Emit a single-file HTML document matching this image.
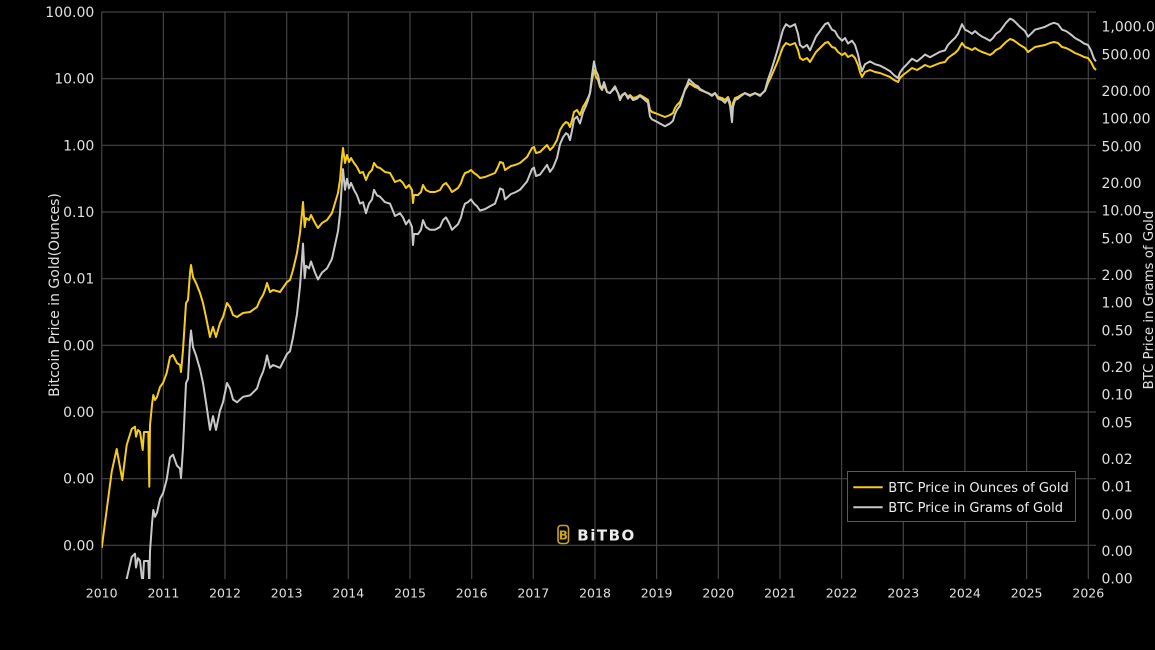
<!DOCTYPE html>
<html>
<head>
<meta charset="utf-8">
<style>
  html,body{margin:0;padding:0;background:#000;width:1155px;height:650px;overflow:hidden;}
  svg{display:block;}
  text{font-family:"DejaVu Sans","Liberation Sans",sans-serif;}
</style>
</head>
<body>
<svg width="1155" height="650" viewBox="0 0 1155 650" xmlns="http://www.w3.org/2000/svg">
  <rect x="0" y="0" width="1155" height="650" fill="#000"/>
  <defs>
    <clipPath id="plot"><rect x="101.7" y="11" width="995" height="568"/></clipPath>
  </defs>

  <!-- gridlines -->
  <g stroke="#444" stroke-width="1.2">
    <line x1="101.7" y1="12" x2="1096" y2="12"/>
    <line x1="101.7" y1="78.7" x2="1096" y2="78.7"/>
    <line x1="101.7" y1="145.3" x2="1096" y2="145.3"/>
    <line x1="101.7" y1="212" x2="1096" y2="212"/>
    <line x1="101.7" y1="278.7" x2="1096" y2="278.7"/>
    <line x1="101.7" y1="345.3" x2="1096" y2="345.3"/>
    <line x1="101.7" y1="412" x2="1096" y2="412"/>
    <line x1="101.7" y1="478.7" x2="1096" y2="478.7"/>
    <line x1="101.7" y1="545.3" x2="1096" y2="545.3"/>

    <line x1="101.7" y1="12" x2="101.7" y2="579"/>
    <line x1="163.4" y1="12" x2="163.4" y2="579"/>
    <line x1="225.0" y1="12" x2="225.0" y2="579"/>
    <line x1="286.7" y1="12" x2="286.7" y2="579"/>
    <line x1="348.3" y1="12" x2="348.3" y2="579"/>
    <line x1="410.0" y1="12" x2="410.0" y2="579"/>
    <line x1="471.7" y1="12" x2="471.7" y2="579"/>
    <line x1="533.3" y1="12" x2="533.3" y2="579"/>
    <line x1="595.0" y1="12" x2="595.0" y2="579"/>
    <line x1="656.6" y1="12" x2="656.6" y2="579"/>
    <line x1="718.3" y1="12" x2="718.3" y2="579"/>
    <line x1="780.0" y1="12" x2="780.0" y2="579"/>
    <line x1="841.6" y1="12" x2="841.6" y2="579"/>
    <line x1="903.3" y1="12" x2="903.3" y2="579"/>
    <line x1="964.9" y1="12" x2="964.9" y2="579"/>
    <line x1="1026.6" y1="12" x2="1026.6" y2="579"/>
    <line x1="1088.3" y1="12" x2="1088.3" y2="579"/>
  </g>

  <!-- BITBO watermark -->
  <g>
    <rect x="558" y="525.5" width="10.5" height="18" rx="3" ry="3" fill="none" stroke="#c9a227" stroke-width="1.6"/>
    <text x="563.3" y="539.5" font-size="12" font-weight="bold" fill="#c9a227" text-anchor="middle">B</text>
    <text x="577.3" y="540.5" font-size="15" font-weight="bold" fill="#ececec" letter-spacing="1.5">BiTBO</text>
  </g>

  <!-- series -->
  <g clip-path="url(#plot)" fill="none" stroke-width="2" stroke-linejoin="round">
    <path stroke="#f5cd19" d="M101.7,548 L111.7,471.7 L116.7,449 L122.3,480 L126.7,445 L131.7,429 L135,426.7 L136,436.7 L138,430 L140,431.7 L142.7,450 L144,432 L148.3,432 L149.3,486.7 L150,425 L152,405 L153.3,395 L155,400 L157,397 L160,387 L163,383 L166.7,373 L170,357 L173,355 L177,363 L180,365 L181,372 L183,350 L186,303 L188,300 L190,273 L191,265 L193,277 L196,283 L200,293 L203,303 L206,317 L208,327 L210,337 L213,327 L216,337 L220,323 L223,317 L227,303 L230,307 L233,315 L237,317 L243,313 L250,312 L257,307 L260,300 L263,295 L265,290 L267,283 L270,292 L273,290 L280,292 L287,282 L290,280 L293,270 L297,253 L300,233 L302,213 L303,202 L304.7,227 L306,218 L309,220 L311,215 L315,223 L318,228 L322,223 L327,220 L332,213 L335,203 L338,193 L340,180 L342,157 L343,148 L345,163 L347,155 L349,162 L351,158 L354,163 L357,167 L360,173 L363,172 L366,180 L369,173 L372,170 L374,163 L377,167 L380,168 L385,172 L390,173 L395,182 L400,180 L403,183 L406,188 L409,185 L412,190 L413,203 L414,195 L418,195 L421,192 L423,185 L426,190 L430,192 L435,192 L440,190 L443,185 L446,183 L449,187 L452,192 L455,190 L458,188 L461,183 L463,177 L465,173 L468,172 L471,170 L474,173 L477,175 L480,178 L485,177 L490,175 L495,173 L498,167 L500,162 L503,163 L505,170 L508,168 L511,166 L515,165 L520,163 L527,157 L532,148 L534,147 L536,153 L540,152 L545,147 L547,145 L550,150 L553,147 L557,140 L560,130 L563,125 L566,122 L568,123 L570,127 L572,120 L574,112 L577,110 L580,115 L583,107 L586,102 L588,98 L590,93 L592,80 L594,70 L596,77 L598,80 L600,87 L602,90 L604,85 L607,92 L610,93 L613,90 L615,88 L618,93 L620,98 L622,95 L625,93 L628,97 L630,95 L633,98 L637,97 L640,95 L645,98 L648,100 L650,110 L652,112 L655,113 L660,115 L665,117 L670,115 L673,113 L675,108 L677,105 L680,102 L683,95 L685,90 L687,87 L689,83 L692,85 L695,87 L698,88 L700,90 L705,92 L708,93 L712,95 L715,93 L718,97 L722,98 L725,100 L728,97 L730,102 L732,114 L733,103 L735,98 L738,97 L741,95 L745,93 L750,95 L755,93 L760,95 L765,91 L768,83 L771,77 L774,70 L777,63 L780,55 L783,47 L786,43 L790,45 L795,43 L798,50 L800,58 L803,60 L807,58 L810,62 L813,57 L816,52 L820,48 L825,43 L828,42 L832,47 L835,48 L838,52 L842,55 L845,53 L848,57 L852,55 L855,58 L858,65 L860,72 L862,77 L865,72 L870,70 L875,72 L880,73 L885,75 L890,77 L894,80 L898,82 L900,78 L903,75 L907,72 L912,68 L917,70 L922,67 L925,65 L930,67 L935,65 L940,63 L945,62 L948,58 L952,55 L955,53 L958,50 L962,43 L965,47 L968,48 L972,50 L975,48 L978,50 L982,52 L985,53 L990,55 L993,53 L996,50 L1000,48 L1003,45 L1006,42 L1010,39 L1013,40 L1016,42 L1020,45 L1025,48 L1028,52 L1031,50 L1035,47 L1040,46 L1045,45 L1050,43 L1054,42 L1058,43 L1062,47 L1066,48 L1070,50 L1075,53 L1080,55 L1084,57 L1088,58 L1091,62 L1094,68 L1096,70"/>
    <path stroke="#c8c8c8" d="M101.7,585 L111.7,585 L116.7,584.5 L122.3,585 L126.7,578.9 L131.7,556.9 L135,553.7 L136,567.5 L138,558.2 L140,560.6 L142.7,585 L144,561 L148.3,561 L149.3,585 L150,551.3 L152,523.7 L153.3,510 L155,516.8 L157,512.7 L160,498.9 L163,493.4 L166.7,479.6 L170,457.5 L173,454.7 L177,465.8 L180,468.5 L181,478.2 L183,447.8 L186,383 L188,378.8 L190,341.6 L191,330.5 L193,347.1 L196,355.4 L200,369.2 L203,383 L206,402.3 L208,416.1 L210,429.9 L213,416.1 L216,429.9 L220,410.6 L223,402.3 L227,383 L230,388.5 L233,399.5 L237,402.3 L243,396.8 L250,395.4 L257,388.5 L260,378.8 L263,371.9 L265,365 L267,355.4 L270,367.8 L273,365 L280,367.8 L287,354 L290,351.2 L293,337.4 L297,314 L300,286.4 L302,258.8 L303,243.6 L304.7,278.1 L306,265.7 L309,268.4 L311,261.5 L315,272.6 L318,279.5 L322,272.6 L327,268.4 L332,258.8 L335,245 L338,231.2 L340,213.2 L342,181.5 L343,169.1 L345,189.8 L347,178.7 L349,188.4 L351,182.9 L354,189.8 L357,195.3 L360,203.6 L363,202.2 L366,213.2 L369,203.6 L372,199.4 L374,189.8 L377,195.3 L380,196.7 L385,202.2 L390,203.6 L395,216 L400,213.2 L403,217.4 L406,224.3 L409,220.1 L412,227 L413,245 L414,234 L418,234 L421,229.8 L423,220.1 L426,227 L430,229.8 L435,229.8 L440,227 L443,220.1 L446,217.4 L449,222.9 L452,229.8 L455,227 L458,224.3 L461,217.4 L463,209.1 L465,203.6 L468,202.2 L471,199.4 L474,203.6 L477,206.3 L480,210.5 L485,209.1 L490,206.3 L495,203.6 L498,195.3 L500,188.4 L503,189.8 L505,199.4 L508,196.7 L511,194 L515,192.5 L520,189.8 L527,181.5 L532,169.1 L534,167.7 L536,176 L540,174.6 L545,167.7 L547,164.9 L550,171.8 L553,167.7 L557,158 L560,144.2 L563,137.3 L566,133.2 L568,134.6 L570,140.1 L572,130.4 L574,119.4 L577,116.6 L580,123.5 L583,112.5 L586,105.6 L588,100.1 L590,93.2 L592,75.2 L594,61.4 L596,71.1 L598,75.2 L600,84.9 L602,89 L604,82.1 L607,91.8 L610,93.2 L613,89 L615,86.3 L618,93.2 L620,100.1 L622,95.9 L625,93.2 L628,98.7 L630,95.9 L633,100.1 L637,98.7 L640,95.9 L645,100.1 L648,102.8 L650,116.6 L652,119.4 L655,120.8 L660,123.5 L665,126.3 L670,123.5 L673,120.8 L675,113.9 L677,109.7 L680,105.6 L683,95.9 L685,89 L687,84.9 L689,79.4 L692,82.1 L695,84.9 L698,86.3 L700,89 L705,91.8 L708,93.2 L712,95.9 L715,93.2 L718,98.7 L722,100.1 L725,102.8 L728,98.7 L730,105.6 L732,122.2 L733,107 L735,100.1 L738,98.7 L741,95.9 L745,93.2 L750,95.9 L755,93.2 L760,95.9 L765,90.4 L768,79.4 L771,71.1 L774,61.4 L777,51.8 L780,40.7 L783,29.7 L786,24.2 L790,26.9 L795,24.2 L798,33.8 L800,44.9 L803,47.6 L807,44.9 L810,50.4 L813,43.5 L816,36.6 L820,31.1 L825,24.2 L828,22.8 L832,29.7 L835,31.1 L838,36.6 L842,40.7 L845,38 L848,43.5 L852,40.7 L855,44.9 L858,54.5 L860,64.2 L862,71.1 L865,64.2 L870,61.4 L875,64.2 L880,65.6 L885,68.3 L890,71.1 L894,75.2 L898,78 L900,72.5 L903,68.3 L907,64.2 L912,58.7 L917,61.4 L922,57.3 L925,54.5 L930,57.3 L935,54.5 L940,51.8 L945,50.4 L948,44.9 L952,40.7 L955,38 L958,33.8 L962,24.2 L965,29.7 L968,31.1 L972,33.8 L975,31.1 L978,33.8 L982,36.6 L985,38 L990,40.7 L993,38 L996,33.8 L1000,31.1 L1003,26.9 L1006,22.8 L1010,18.7 L1013,20 L1016,22.8 L1020,26.9 L1025,31.1 L1028,36.6 L1031,33.8 L1035,29.7 L1040,28.3 L1045,26.9 L1050,24.2 L1054,22.8 L1058,24.2 L1062,29.7 L1066,31.1 L1070,33.8 L1075,38 L1080,40.7 L1084,43.5 L1088,44.9 L1091,50.4 L1094,58.7 L1096,61.4"/>
  </g>

  <!-- left tick labels -->
  <g font-size="14" fill="#e0e0e0" text-anchor="end">
    <text x="94.3" y="17">100.00</text>
    <text x="94.3" y="83.7">10.00</text>
    <text x="94.3" y="150.3">1.00</text>
    <text x="94.3" y="217">0.10</text>
    <text x="94.3" y="283.7">0.01</text>
    <text x="94.3" y="350.3">0.00</text>
    <text x="94.3" y="417">0.00</text>
    <text x="94.3" y="483.7">0.00</text>
    <text x="94.3" y="550.3">0.00</text>
  </g>

  <!-- right tick labels -->
  <g font-size="14" fill="#e0e0e0" text-anchor="start">
    <text x="1101.5" y="31.7">1,000.00</text>
    <text x="1101.5" y="59.4">500.00</text>
    <text x="1101.5" y="96">200.00</text>
    <text x="1101.5" y="123.7">100.00</text>
    <text x="1101.5" y="151.4">50.00</text>
    <text x="1101.5" y="188">20.00</text>
    <text x="1101.5" y="215.7">10.00</text>
    <text x="1101.5" y="243.4">5.00</text>
    <text x="1101.5" y="280">2.00</text>
    <text x="1101.5" y="307.7">1.00</text>
    <text x="1101.5" y="335.4">0.50</text>
    <text x="1101.5" y="372">0.20</text>
    <text x="1101.5" y="399.7">0.10</text>
    <text x="1101.5" y="427.4">0.05</text>
    <text x="1101.5" y="464">0.02</text>
    <text x="1101.5" y="491.7">0.01</text>
    <text x="1101.5" y="519.4">0.00</text>
    <text x="1101.5" y="556">0.00</text>
    <text x="1101.5" y="583.7">0.00</text>
  </g>

  <!-- x tick labels -->
  <g font-size="12.5" fill="#e0e0e0" text-anchor="middle">
    <text x="101.7" y="597.5">2010</text>
    <text x="163.4" y="597.5">2011</text>
    <text x="225.0" y="597.5">2012</text>
    <text x="286.7" y="597.5">2013</text>
    <text x="348.3" y="597.5">2014</text>
    <text x="410.0" y="597.5">2015</text>
    <text x="471.7" y="597.5">2016</text>
    <text x="533.3" y="597.5">2017</text>
    <text x="595.0" y="597.5">2018</text>
    <text x="656.6" y="597.5">2019</text>
    <text x="718.3" y="597.5">2020</text>
    <text x="780.0" y="597.5">2021</text>
    <text x="841.6" y="597.5">2022</text>
    <text x="903.3" y="597.5">2023</text>
    <text x="964.9" y="597.5">2024</text>
    <text x="1026.6" y="597.5">2025</text>
    <text x="1088.3" y="597.5">2026</text>
  </g>

  <!-- axis titles -->
  <text transform="translate(59,295) rotate(-90)" font-size="14" fill="#e0e0e0" text-anchor="middle">Bitcoin Price in Gold(Ounces)</text>
  <text transform="translate(1153,300) rotate(-90)" font-size="13.3" fill="#e0e0e0" text-anchor="middle">BTC Price in Grams of Gold</text>

  <!-- legend -->
  <g>
    <rect x="847.5" y="471.5" width="228" height="50" fill="#000" stroke="#5a5a5a" stroke-width="1"/>
    <line x1="853.3" y1="487.3" x2="882.7" y2="487.3" stroke="#f5cd19" stroke-width="2"/>
    <line x1="853.3" y1="507.3" x2="882.7" y2="507.3" stroke="#c8c8c8" stroke-width="2"/>
    <text x="888.3" y="492" font-size="13" fill="#eeeeee">BTC Price in Ounces of Gold</text>
    <text x="888.3" y="512" font-size="13" fill="#eeeeee">BTC Price in Grams of Gold</text>
  </g>
</svg>
</body>
</html>
